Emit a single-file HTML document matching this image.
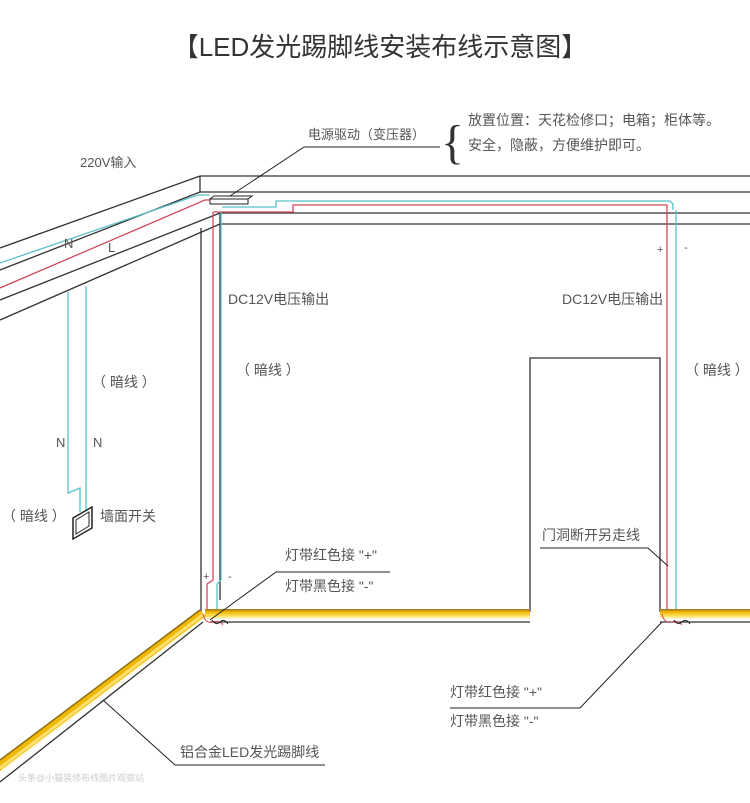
<!DOCTYPE html>
<html><head><meta charset="utf-8"><style>
html,body{margin:0;padding:0;background:#fff;}
svg{display:block;font-family:"Liberation Sans","Noto Sans CJK SC",sans-serif;}
</style></head><body>
<svg width="750" height="803" viewBox="0 0 750 803" xmlns="http://www.w3.org/2000/svg">
<defs>
<linearGradient id="yb" x1="0" y1="0" x2="0" y2="1">
<stop offset="0" stop-color="#9a7420"/><stop offset="0.3" stop-color="#f0b800"/><stop offset="0.7" stop-color="#ffe060"/><stop offset="1" stop-color="#fffbe0"/>
</linearGradient>
</defs>
<text x="380" y="56" font-size="26" text-anchor="middle" fill="#333">【LED发光踢脚线安装布线示意图】</text>

<g stroke="#333" stroke-width="1.3" fill="none">
<line x1="200" y1="176" x2="750" y2="176"/>
<line x1="200" y1="192" x2="750" y2="192"/>
<line x1="220" y1="213" x2="750" y2="213"/>
<line x1="220" y1="224" x2="750" y2="224"/>
<line x1="200" y1="176" x2="200" y2="192"/>
<line x1="220" y1="213" x2="220" y2="224"/>
<line x1="200" y1="176" x2="0" y2="248"/>
<line x1="200" y1="192" x2="0" y2="270"/>
<line x1="220" y1="213" x2="0" y2="300"/>
<line x1="220" y1="224" x2="0" y2="320"/>
<line x1="201" y1="228" x2="201" y2="612"/>
<line x1="220" y1="224" x2="220" y2="600"/>
<polyline points="530,612 530,358 660,358 660,612"/>
<line x1="210" y1="622" x2="530" y2="622"/>
<line x1="660" y1="622" x2="750" y2="622"/>
<line x1="203" y1="622" x2="0" y2="782"/>
</g>
<polygon points="210,199 248,199 252,196 214,196" fill="#fff" stroke="#222" stroke-width="1"/>
<rect x="210" y="199" width="38" height="5" fill="#fff" stroke="#222" stroke-width="1"/>
<line x1="230" y1="196" x2="304" y2="147" stroke="#222" stroke-width="1"/>
<line x1="304" y1="147" x2="440" y2="147" stroke="#222" stroke-width="1"/>

<g fill="none" stroke-width="1.3">
<polyline stroke="#5bc0c8" points="0,263 198,195 210,195"/>
<polyline stroke="#d04a5a" points="0,288 205,200 210,200"/>
<polyline stroke="#5bc0c8" points="222,207 276,207 276,201 670,201 673,204 673,210"/>
<polyline stroke="#d04a5a" points="213,212 293,212 293,205 667,205 667,612"/>
<polyline stroke="#5bc0c8" points="676,210 676,612"/>
<polyline stroke="#d04a5a" points="213,212 213,580 207,584 207,612"/>
<polyline stroke="#5bc0c8" points="221,212 221,580 217,584 217,610"/>
<polyline stroke="#5bc0c8" points="68,292 68,493 80,488 80,512"/>
<polyline stroke="#5bc0c8" points="86,286 86,512"/>
</g>
<polygon points="73,518 92,507 92,528 73,539" fill="#fff" stroke="#222" stroke-width="1.5"/>
<polygon points="76,520 89,512 89,526 76,534" fill="none" stroke="#222" stroke-width="1"/>

<rect x="205" y="609" width="325" height="10" fill="url(#yb)"/>
<rect x="660" y="609" width="90" height="10" fill="url(#yb)"/>
<polygon points="200,610 207,617 0,772 0,760" fill="#f0b800"/>
<line x1="200" y1="610" x2="0" y2="760" stroke="#8a6a10" stroke-width="1.5"/>
<line x1="204" y1="614" x2="0" y2="768" stroke="#ffe070" stroke-width="3"/>
<line x1="206" y1="617" x2="0" y2="772" stroke="#fffbe0" stroke-width="2"/>

<g fill="none" stroke-width="1">
<path d="M203,614 q2,10 10,8 q6,-2 10,3" stroke="#d04a5a"/>
<path d="M212,620 q4,6 8,2 q4,-4 8,2" stroke="#222"/>
<path d="M662,614 q2,10 10,8 q6,-2 10,3" stroke="#d04a5a"/>
<path d="M674,620 q4,6 8,2 q4,-4 8,2" stroke="#222"/>
</g>

<g stroke="#222" stroke-width="1" fill="none">
<polyline points="210,620 276,572 390,572"/>
<polyline points="540,548 648,548 668,566"/>
<polyline points="662,622 580,708 450,708"/>
<polyline points="103,700 175,765 325,765"/>
</g>

<g fill="#555" font-size="14">
<text x="308" y="139" font-size="13">电源驱动（变压器）</text>
<text x="468" y="125">放置位置：天花检修口；电箱；柜体等。</text>
<text x="468" y="150">安全，隐蔽，方便维护即可。</text>
<text x="80" y="167" font-size="13">220V输入</text>
<text x="64" y="248" font-size="13">N</text>
<text x="108" y="252" font-size="13">L</text>
<text x="92" y="387">（ 暗线 ）</text>
<text x="56" y="447" font-size="13">N</text>
<text x="93" y="447" font-size="13">N</text>
<text x="2" y="521">（ 暗线 ）</text>
<text x="100" y="521">墙面开关</text>
<text x="228" y="304">DC12V电压输出</text>
<text x="562" y="304">DC12V电压输出</text>
<text x="236" y="375">（ 暗线 ）</text>
<text x="685" y="375">（ 暗线 ）</text>
<text x="285" y="560">灯带红色接 "+"</text>
<text x="285" y="591">灯带黑色接 "-"</text>
<text x="542" y="540">门洞断开另走线</text>
<text x="450" y="697">灯带红色接 "+"</text>
<text x="450" y="726">灯带黑色接 "-"</text>
<text x="180" y="757">铝合金LED发光踢脚线</text>
<text x="203" y="580" font-size="11">+</text>
<text x="228" y="580" font-size="11">-</text>
<text x="657" y="253" font-size="11">+</text>
<text x="684" y="251" font-size="11">-</text>
</g>
<text x="441" y="158" font-size="48" fill="#333" transform="scale(1,1)" font-family="Liberation Serif, serif">{</text>
<text x="18" y="781" font-size="9" fill="#ccc">头条@小猫装修布线图片观察站</text>
</svg>
</body></html>
